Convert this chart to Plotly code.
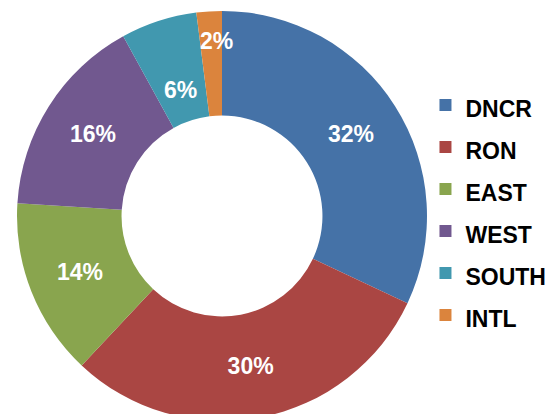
import plotly.graph_objects as go

categories = ["DNCR", "RON", "EAST", "WEST", "SOUTH", "INTL"]
shares = [32, 30, 14, 16, 6, 2]
colors = ["#4572A7", "#AA4643", "#89A54E", "#71588F", "#4198AF", "#DB843D"]

legend_labels = [f"<span style='font-size:23px'>{c}</span>" for c in categories]

W, H = 554, 432

# small slices get their labels placed by hand, as in the source chart
small_label_pos = {"SOUTH": (180, 90), "INTL": (216, 41)}
text_pos = ["none" if c in small_label_pos else "inside" for c in categories]

label_font = dict(family="Liberation Sans, Arial", size=23, color="white", weight="bold")

fig = go.Figure(
    go.Pie(
        labels=legend_labels,
        values=shares,
        sort=False,
        direction="clockwise",
        rotation=0,
        hole=0.49,
        marker=dict(colors=colors, line=dict(width=0)),
        texttemplate="%{percent:.0%}",
        textposition=text_pos,
        insidetextorientation="horizontal",
        textfont=label_font,
        domain=dict(x=[17 / W, 427 / W], y=[0, 1]),
        hoverinfo="label+percent",
    )
)

total = sum(shares)
for c, v in zip(categories, shares):
    if c in small_label_pos:
        px, py = small_label_pos[c]
        fig.add_annotation(
            x=px / W, y=1 - py / H, xref="paper", yref="paper",
            text=f"{round(100 * v / total)}%", showarrow=False,
            xanchor="center", yanchor="middle", font=label_font,
        )

fig.update_layout(
    width=W,
    height=H,
    margin=dict(l=0, r=0, t=0, b=0),
    paper_bgcolor="white",
    plot_bgcolor="white",
    showlegend=True,
    uniformtext=dict(minsize=23, mode="show"),
    legend=dict(
        x=0.768,
        xanchor="left",
        y=0.514,
        yanchor="middle",
        font=dict(family="Liberation Sans, Arial", size=30, color="black", weight="bold"),
        bgcolor="rgba(0,0,0,0)",
        borderwidth=0,
    ),
)

fig.write_html(
    "out.html",
    post_script="document.documentElement.style.overflow='hidden';document.body.style.overflow='hidden';",
)
